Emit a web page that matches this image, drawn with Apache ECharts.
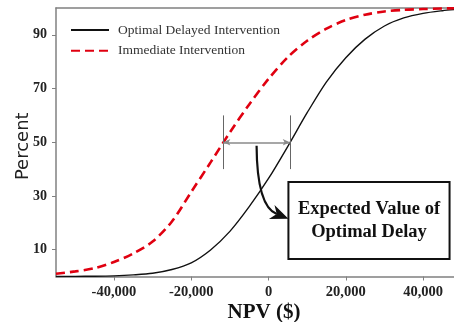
<!DOCTYPE html>
<html>
<head>
<meta charset="utf-8">
<script src="https://cdn.jsdelivr.net/npm/echarts@6/dist/echarts.min.js"></script>
<style>
html,body{margin:0;padding:0;background:#fff;}
#chart{width:454px;height:322px;}
</style>
</head>
<body>
<div id="chart"></div>
<script>
// NPV grid (x values, $)
const npv = [-55000,-50000,-45000,-40000,-35000,-30000,-25000,-20000,-15000,-10000,-5000,0,5000,10000,15000,20000,25000,30000,35000,40000,45000,48000];
// Cumulative percent, Immediate Intervention (red dashed)
const immediatePct = [1.0,1.9,3.1,5.4,8.6,13.0,20.5,31.5,42.5,53.7,64.1,73.6,81.7,87.8,92.3,95.5,97.5,98.7,99.3,99.6,99.8,99.9];
// Cumulative percent, Optimal Delayed Intervention (black solid)
const delayedPct = [0.0,0.05,0.1,0.25,0.6,1.2,2.6,5.1,9.9,16.8,26.0,36.5,48.5,61.0,72.5,81.5,88.4,93.3,96.3,98.0,99.0,99.4];
const xTicks = [-40000,-20000,0,20000,40000];
const yTicks = [10,30,50,70,90];
// Median (50%) points of each curve and the bracket around them
const immediateMedian = -11700;
const delayedMedian = 5500;
const bracketLow = 40, bracketHigh = 60, medianPct = 50;
// Curved arrow: start, control, end (data units), and label box corners
const arrowStart = [-3090, 48.7];
const arrowCtrl = [-3000, 26.2];
const arrowEnd = [5150, 21.5];
const boxTopLeft = [5150, 35.2];
const boxBottomRight = [46850, 6.5];
const boxText = 'Expected Value of\nOptimal Delay';

const chart = echarts.init(document.getElementById('chart'), null, {renderer:'canvas'});
const serif = '"Liberation Serif", "Times New Roman", serif';

const option = {
  animation: false,
  backgroundColor: '#fff',
  grid: {left: 56, top: 8, right: 0, bottom: 45.5, containLabel: false, outerBoundsMode: 'none'},
  legend: {
    orient: 'vertical',
    left: 70,
    top: 23,
    padding: 0,
    itemWidth: 38,
    itemHeight: 14,
    itemGap: 6.7,
    itemStyle: {opacity: 0},
    textStyle: {fontFamily: serif, fontSize: 13.5, color: '#333', padding: [0,0,0,4]},
    data: ['Optimal Delayed Intervention', 'Immediate Intervention']
  },
  xAxis: [{
    type: 'value',
    min: -55000,
    max: 48000,
    name: 'NPV ($)',
    nameLocation: 'middle',
    nameGap: 25.5,
    nameMoveOverlap: false,
    nameTextStyle: {fontFamily: serif, fontSize: 21, fontWeight: 'bold', color: '#111', padding: [0,0,0,18]},
    axisLine: {show: true, onZero: false, lineStyle: {color: '#808080', width: 1.5}},
    axisTick: {show: true, length: 4, customValues: xTicks, lineStyle: {color: '#808080'}},
    axisLabel: {customValues: xTicks, fontFamily: serif, fontSize: 14.5, fontWeight: 'bold', color: '#222', margin: 8,
      formatter: v => v.toLocaleString('en-US')},
    splitLine: {show: false}
  }, {
    type: 'value',
    position: 'top',
    min: -55000,
    max: 48000,
    axisLine: {show: true, onZero: false, lineStyle: {color: '#808080', width: 1.5}},
    axisTick: {show: false},
    axisLabel: {show: false},
    splitLine: {show: false}
  }],
  yAxis: {
    type: 'value',
    min: 0,
    max: 100,
    name: 'Percent',
    nameLocation: 'middle',
    nameGap: 24,
    nameMoveOverlap: false,
    nameTextStyle: {fontFamily: '"DejaVu Sans", sans-serif', fontSize: 18, color: '#222', padding: [0,8,0,0]},
    axisLine: {show: true, onZero: false, lineStyle: {color: '#808080', width: 1.5}},
    axisTick: {show: true, length: 4, customValues: yTicks, lineStyle: {color: '#808080'}},
    axisLabel: {customValues: yTicks, fontFamily: serif, fontSize: 14, fontWeight: 'bold', color: '#222', margin: 9},
    splitLine: {show: false}
  },
  series: [{
    name: 'Optimal Delayed Intervention',
    type: 'line',
    smooth: 0.3,
    symbol: 'none',
    data: npv.map((x, i) => [x, delayedPct[i]]),
    lineStyle: {color: '#111', width: 1.4},
    itemStyle: {color: '#111'},
    z: 3
  }, {
    name: 'Immediate Intervention',
    type: 'line',
    smooth: 0.3,
    symbol: 'none',
    data: npv.map((x, i) => [x, immediatePct[i]]),
    lineStyle: {color: '#e00010', width: 2.6, type: [9, 5]},
    itemStyle: {color: '#e00010'},
    z: 4,
    markLine: {
      silent: true,
      symbol: ['none', 'none'],
      label: {show: false},
      animation: false,
      data: [
        [{coord: [immediateMedian, bracketLow], lineStyle: {color: '#666', width: 1, type: 'solid'}}, {coord: [immediateMedian, bracketHigh]}],
        [{coord: [delayedMedian, bracketLow], lineStyle: {color: '#666', width: 1, type: 'solid'}}, {coord: [delayedMedian, bracketHigh]}],
        [{coord: [immediateMedian, medianPct], symbol: 'arrow', symbolSize: [5, 7], lineStyle: {color: '#8a8a8a', width: 1.5, type: 'solid'}},
         {coord: [delayedMedian, medianPct], symbol: 'arrow', symbolSize: [5, 7]}]
      ]
    }
  }, {
    name: 'annotation',
    type: 'custom',
    silent: true,
    clip: false,
    z: 10,
    data: [[0, 0]],
    renderItem: function (params, api) {
      const p0 = api.coord(arrowStart);
      const c = api.coord(arrowCtrl);
      const p1 = api.coord(arrowEnd);
      const b0 = api.coord(boxTopLeft);
      const b1 = api.coord(boxBottomRight);
      const dx = p1[0] - c[0], dy = p1[1] - c[1];
      const len = Math.sqrt(dx*dx + dy*dy);
      const ux = dx/len, uy = dy/len;
      const L = 18, W = 7.5;
      const base = [p1[0] - ux*L, p1[1] - uy*L];
      const notch = [p1[0] - ux*L*0.7, p1[1] - uy*L*0.7];
      const head = [
        p1,
        [base[0] - uy*W, base[1] + ux*W],
        notch,
        [base[0] + uy*W, base[1] - ux*W]
      ];
      return {
        type: 'group',
        children: [{
          type: 'bezierCurve',
          shape: {x1: p0[0], y1: p0[1], x2: notch[0], y2: notch[1], cpx1: c[0], cpy1: c[1]},
          style: {stroke: '#111', lineWidth: 2.2, fill: null}
        }, {
          type: 'polygon',
          shape: {points: head},
          style: {fill: '#111'}
        }, {
          type: 'rect',
          shape: {x: b0[0], y: b0[1], width: b1[0] - b0[0], height: b1[1] - b0[1]},
          style: {stroke: '#111', lineWidth: 2, fill: '#fff'}
        }, {
          type: 'text',
          style: {
            text: boxText,
            x: (b0[0] + b1[0]) / 2,
            y: (b0[1] + b1[1]) / 2 + 0.5,
            align: 'center',
            verticalAlign: 'middle',
            font: 'bold 18.5px ' + serif,
            lineHeight: 23,
            fill: '#111'
          }
        }]
      };
    }
  }]
};
chart.setOption(option);
</script>
</body>
</html>
